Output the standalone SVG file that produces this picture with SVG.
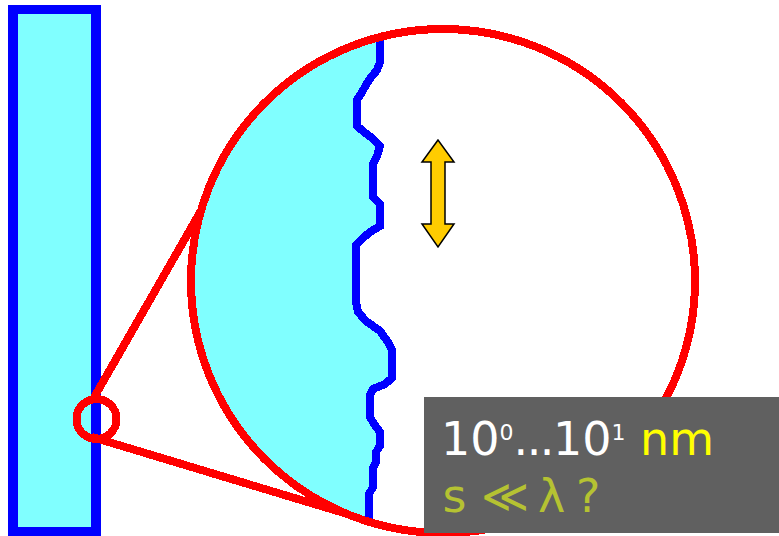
<svg xmlns="http://www.w3.org/2000/svg" width="779" height="536" viewBox="0 0 779 536">
  <style>
    .shape { shape-rendering: crispEdges; }
    .red { fill: none; stroke: #ff0000; stroke-width: 8; }
    .blue { fill: none; stroke: #0000ff; stroke-width: 8; stroke-linejoin: miter; }
    .txt { font-family: "DejaVu Sans", "Noto Sans", sans-serif; font-size: 46px; }
  </style>
  <defs>
    <clipPath id="bigClip">
      <circle cx="443" cy="281" r="252"/>
    </clipPath>
  </defs>
  <rect width="779" height="536" fill="#ffffff"/>

  <g id="bar" class="shape">
    <rect x="13" y="9.5" width="83" height="522" fill="#80ffff" stroke="#0000ff" stroke-width="9.5"/>
  </g>

  <g id="small-circle" class="shape">
    <circle class="red" cx="96.5" cy="419" r="20"/>
  </g>

  <g id="connectors" class="shape">
    <line class="red" x1="92" y1="401" x2="214" y2="188"/>
    <line class="red" x1="92" y1="437" x2="374" y2="522"/>
  </g>

  <g id="big-circle" class="shape">
    <circle cx="443" cy="281" r="252" fill="#ffffff"/>
    <g clip-path="url(#bigClip)">
      <polygon fill="#80ffff" points="150,20 380,20 380,62 377,70 369,80 362,92 357,100 357,126 364,132 372,138 380,146 377,156 373,164 373,197 380,204 380,226 370,232 363,238 356,245 356,302 358,312 366,321 380,331 388,342 392,350 392,378 385,384 373,389 370,395 370,417 374,424 380,432 380,446 376,452 376,462 373,468 373,487 369,494 369,540 150,540"/>
      <polyline class="blue" points="380,20 380,62 377,70 369,80 362,92 357,100 357,126 364,132 372,138 380,146 377,156 373,164 373,197 380,204 380,226 370,232 363,238 356,245 356,302 358,312 366,321 380,331 388,342 392,350 392,378 385,384 373,389 370,395 370,417 374,424 380,432 380,446 376,452 376,462 373,468 373,487 369,494 369,540"/>
    </g>
    <circle class="red" cx="443" cy="281" r="252"/>
  </g>

  <g id="arrow">
    <polygon points="438,140 422,162 431,162 431,224 422,224 438,247 454,224 445,224 445,162 454,162" fill="#ffcc00" stroke="#000000" stroke-width="1.5" stroke-linejoin="miter"/>
  </g>

  <g id="label">
    <rect x="424" y="397" width="360" height="136" fill="#606060"/>
    <text class="txt" fill="#ffffff" x="441" y="455"><tspan>10</tspan><tspan dy="-15" font-size="22">0</tspan><tspan dy="15" letter-spacing="-1.5">...</tspan><tspan>10</tspan><tspan dy="-15" font-size="22">1</tspan><tspan dy="15" fill="#ffff00"> nm</tspan></text>
    <text class="txt" fill="#b5c232" y="512" font-size="48"><tspan x="442.5">s</tspan><tspan x="481">≪</tspan><tspan x="538">λ</tspan><tspan x="576">?</tspan></text>
  </g>
</svg>
